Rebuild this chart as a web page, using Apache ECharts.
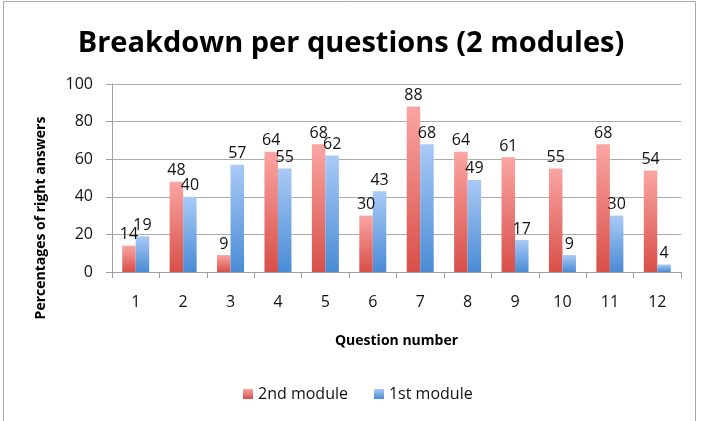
<!DOCTYPE html>
<html>
<head>
<meta charset="utf-8">
<script src="https://cdn.jsdelivr.net/npm/echarts@6/dist/echarts.min.js"></script>
<style>
  html, body { margin: 0; padding: 0; background: #fff; }
  #main { width: 702px; height: 421px; }
</style>
</head>
<body>
<div id="main"></div>
<script>
// data
var questions = ['1', '2', '3', '4', '5', '6', '7', '8', '9', '10', '11', '12'];
var module2 = [14, 48, 9, 64, 68, 30, 88, 64, 61, 55, 68, 54];
var module1 = [19, 40, 57, 55, 62, 43, 68, 49, 17, 9, 30, 4];
var yTicks = [0, 20, 40, 60, 80, 100];

var font = 'Open Sans';

function grad(top, bottom) {
  return new echarts.graphic.LinearGradient(0, 0, 0, 1, [
    { offset: 0, color: top },
    { offset: 1, color: bottom }
  ]);
}

var chart = echarts.init(document.getElementById('main'));

var option = {
  backgroundColor: '#fff',
  animation: false,
  textStyle: { fontFamily: font },
  title: {
    text: 'Breakdown per questions (2 modules)',
    left: 'center',
    top: 24,
    textStyle: { fontFamily: font, fontSize: 29, fontWeight: 'bold', color: '#000' }
  },
  // thin frame round the chart
  graphic: [{
    type: 'rect',
    shape: { x: 3.5, y: 1.5, width: 692, height: 430 },
    style: { fill: null, stroke: '#a8a8a8', lineWidth: 1 },
    silent: true
  }],
  legend: {
    bottom: 14,
    left: 238,
    itemWidth: 10,
    itemHeight: 10,
    itemGap: 26,
    icon: 'rect',
    textStyle: { fontFamily: font, fontSize: 16, color: '#111' },
    data: ['2nd module', '1st module']
  },
  grid: { left: 112, right: 21, top: 84, bottom: 149 },
  xAxis: {
    type: 'category',
    data: questions,
    name: 'Question number',
    nameLocation: 'middle',
    nameGap: 62,
    nameTextStyle: { fontFamily: font, fontSize: 14, fontWeight: 'bold', color: '#000' },
    axisLine: { lineStyle: { color: '#a0a0a0' } },
    axisTick: { show: true, length: 6, lineStyle: { color: '#a0a0a0' } },
    axisLabel: { fontFamily: font, fontSize: 16, color: '#111', margin: 22 }
  },
  yAxis: {
    type: 'value',
    min: yTicks[0],
    max: yTicks[yTicks.length - 1],
    interval: 20,
    name: 'Percentages of right answers',
    nameLocation: 'middle',
    nameGap: 64,
    nameTextStyle: { fontFamily: font, fontSize: 14, fontWeight: 'bold', color: '#000', padding: [0, 80, 0, 0] },
    axisLine: { show: true, lineStyle: { color: '#a0a0a0' } },
    axisTick: { show: true, length: 6, lineStyle: { color: '#a0a0a0' } },
    axisLabel: { fontFamily: font, fontSize: 16, color: '#111', margin: 19 },
    splitLine: { lineStyle: { color: '#ababab' } }
  },
  series: [
    {
      name: '2nd module',
      type: 'bar',
      data: module2,
      barWidth: 13.5,
      barGap: '0%',
      itemStyle: { color: grad('#faa5a3', '#d84f48') },
      label: { show: true, position: 'top', distance: 3, fontFamily: font, fontSize: 16, color: '#111' }
    },
    {
      name: '1st module',
      type: 'bar',
      data: module1,
      barWidth: 13.5,
      itemStyle: { color: grad('#a9caf6', '#4a8bd5') },
      label: { show: true, position: 'top', distance: 3, fontFamily: font, fontSize: 16, color: '#111' }
    }
  ]
};

chart.setOption(option);
</script>
</body>
</html>
